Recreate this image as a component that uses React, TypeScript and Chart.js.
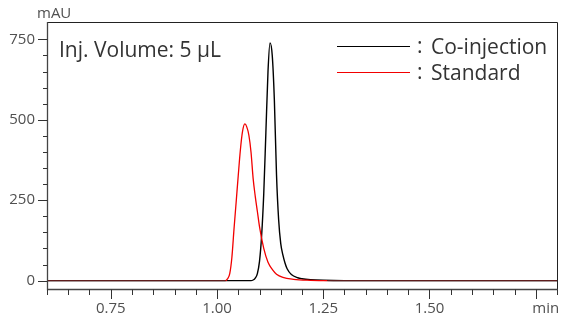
import React, { useEffect, useRef } from 'react';
import { Chart, registerables } from 'chart.js';
Chart.register(...registerables);

// Co-injection trace (min, mAU)
const coTimes = [0.6, 1.08, 1.085, 1.09, 1.095, 1.1, 1.105, 1.11, 1.115, 1.12, 1.1247, 1.13, 1.135, 1.14, 1.145, 1.15, 1.155, 1.16, 1.165, 1.175, 1.19, 1.2, 1.22, 1.25, 1.3, 1.8];
const coValues = [0, 0, 2, 8, 22, 60, 140, 270, 460, 650, 739, 700, 560, 330, 190, 115, 80, 55, 37, 19, 9, 6, 3, 1, 0, 0];

// Standard trace (min, mAU)
const stdTimes = [0.6, 1.02, 1.025, 1.03, 1.035, 1.04, 1.045, 1.05, 1.055, 1.06, 1.0655, 1.07, 1.075, 1.08, 1.085, 1.09, 1.095, 1.1, 1.11, 1.12, 1.13, 1.14, 1.155, 1.18, 1.22, 1.26, 1.8];
const stdValues = [0, 0, 6, 22, 72, 160, 243, 327, 406, 463, 487, 478, 452, 400, 318, 262, 215, 168, 100, 57, 35, 20, 10, 4, 1, 0, 0];

const seriesLabels = ['Co-injection', 'Standard'];
const xMajorTicks = [0.75, 1.0, 1.25, 1.5];
const xUnitLabel = 'min';
const yMajorTicks = [0, 250, 500, 750];
const yUnitLabel = 'mAU';
const annotation = 'Inj. Volume: 5 µL';

const FONT = '"Open Sans", "Noto Sans", sans-serif';

const axesPlugin = {
  id: 'chromAxes',
  afterDraw(chart: any) {
    const ctx = chart.ctx;
    const { left, right, top, bottom } = chart.chartArea;
    const xs = chart.scales.x;
    const ys = chart.scales.y;
    ctx.save();
    // frame top/right
    ctx.strokeStyle = '#222';
    ctx.lineWidth = 1;
    ctx.beginPath();
    ctx.moveTo(left, top + 0.5);
    ctx.lineTo(right + 0.5, top + 0.5);
    ctx.lineTo(right + 0.5, bottom);
    ctx.stroke();
    // axes
    ctx.strokeStyle = '#444';
    ctx.lineWidth = 1.3;
    ctx.beginPath();
    ctx.moveTo(left + 0.5, top);
    ctx.lineTo(left + 0.5, bottom + 0.5);
    ctx.lineTo(right + 1, bottom + 0.5);
    ctx.stroke();
    // x ticks
    ctx.lineWidth = 1;
    ctx.strokeStyle = '#333';
    for (let i = 0; i <= 24; i++) {
      const v = 0.6 + i * 0.05;
      const major = Math.abs((v / 0.25) - Math.round(v / 0.25)) < 1e-6;
      const px = Math.round(xs.getPixelForValue(v)) + 0.5;
      ctx.beginPath();
      ctx.moveTo(px, bottom + 0.5);
      ctx.lineTo(px, bottom + (major ? 10 : 6));
      ctx.stroke();
    }
    // y ticks
    for (let v = 0; v <= 750; v += 50) {
      const major = v % 250 === 0;
      const py = Math.round(ys.getPixelForValue(v)) + 0.5;
      ctx.beginPath();
      ctx.moveTo(left + 0.5, py);
      ctx.lineTo(left - (major ? 9 : 4), py);
      ctx.stroke();
    }
    // labels
    ctx.fillStyle = '#505050';
    ctx.font = `15px ${FONT}`;
    ctx.textAlign = 'center';
    ctx.textBaseline = 'middle';
    xMajorTicks.forEach((v) => {
      ctx.fillText(v.toFixed(2), xs.getPixelForValue(v), 309);
    });
    ctx.fillText(xUnitLabel, xs.getPixelForValue(1.75) + 10, 309);
    ctx.textAlign = 'right';
    yMajorTicks.forEach((v) => {
      ctx.fillText(String(v), left - 12, ys.getPixelForValue(v));
    });
    ctx.textAlign = 'left';
    ctx.font = `15px ${FONT}`;
    ctx.fillText(yUnitLabel, 37, 14);
    // annotation
    ctx.fillStyle = '#333';
    ctx.font = `21px ${FONT}`;
    ctx.textBaseline = 'alphabetic';
    ctx.fillText(annotation, 59, 57);
    // legend
    const ds = chart.data.datasets;
    const rows = [46, 72];
    seriesLabels.forEach((label, i) => {
      const d = ds.find((x: any) => x.label === label);
      const y = rows[i];
      ctx.strokeStyle = d.borderColor;
      ctx.lineWidth = 1.2;
      ctx.beginPath();
      ctx.moveTo(337, y + 0.5);
      ctx.lineTo(410, y + 0.5);
      ctx.stroke();
      ctx.fillStyle = '#333';
      ctx.textBaseline = 'middle';
      ctx.font = `21px ${FONT}`;
      ctx.fillText(':', 417, y + 1);
      ctx.fillText(label, 431, y + 2);
    });
    ctx.restore();
  },
};

const baselineColor = (ctx: any) =>
  ctx.p0.parsed.y === 0 && ctx.p1.parsed.y === 0 ? '#5e1c1c' : undefined;

export default function App() {
  const ref = useRef<HTMLCanvasElement | null>(null);
  useEffect(() => {
    document.body.style.margin = '0';
    const canvas = ref.current!;
    const chart = new Chart(canvas, {
      type: 'line',
      data: {
        datasets: [
          {
            label: seriesLabels[0],
            data: coTimes.map((t, i) => ({ x: t, y: coValues[i] })),
            borderColor: '#000000',
            borderWidth: 1.4,
            pointRadius: 0,
            cubicInterpolationMode: 'monotone',
            order: 2,
          },
          {
            label: seriesLabels[1],
            data: stdTimes.map((t, i) => ({ x: t, y: stdValues[i] })),
            borderColor: '#f20000',
            borderWidth: 1.3,
            pointRadius: 0,
            cubicInterpolationMode: 'monotone',
            segment: { borderColor: baselineColor },
            order: 1,
          },
        ],
      },
      options: {
        responsive: false,
        animation: false,
        events: [],
        layout: { padding: { left: 47, top: 22, right: 6, bottom: 33 } },
        plugins: { legend: { display: false }, tooltip: { enabled: false } },
        scales: {
          x: { type: 'linear', min: 0.6, max: 1.8, display: false },
          y: { type: 'linear', min: -26, max: 804, display: false },
        },
      },
      plugins: [axesPlugin],
    } as any);
    return () => chart.destroy();
  }, []);
  return (
    <div style={{ position: 'absolute', left: 0, top: 0, width: 563, height: 322, background: '#fff' }}>
      <canvas ref={ref} width={563} height={322} />
    </div>
  );
}
